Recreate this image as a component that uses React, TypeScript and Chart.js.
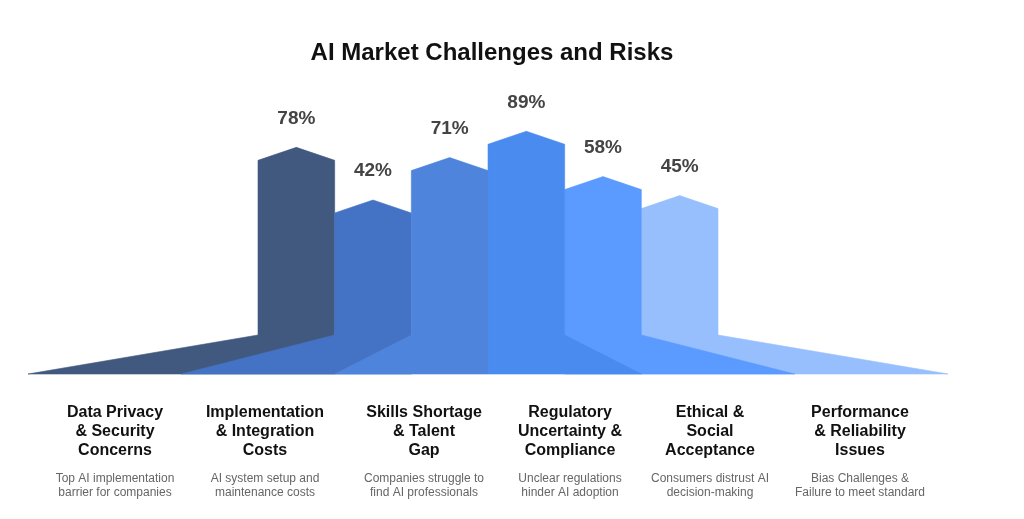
import React, { useEffect, useRef } from "react";
import { Chart, registerables } from "chart.js";

Chart.register(...registerables);

const categories = [
  ["Data Privacy", "& Security", "Concerns"],
  ["Implementation", "& Integration", "Costs"],
  ["Skills Shortage", "& Talent", "Gap"],
  ["Regulatory", "Uncertainty &", "Compliance"],
  ["Ethical &", "Social", "Acceptance"],
  ["Performance", "& Reliability", "Issues"],
];
const descriptions = [
  ["Top AI implementation", "barrier for companies"],
  ["AI system setup and", "maintenance costs"],
  ["Companies struggle to", "find AI professionals"],
  ["Unclear regulations", "hinder AI adoption"],
  ["Consumers distrust AI", "decision-making"],
  ["Bias Challenges &", "Failure to meet standard"],
];
const values = [78, 42, 71, 89, 58, 45];
const valueLabels = ["78%", "42%", "71%", "89%", "58%", "45%"];
const colors = ["#41597f", "#4472c4", "#4e84db", "#4a8bef", "#5b9bff", "#97bffe"];
const title = "AI Market Challenges and Risks";

// layout (canvas coordinates)
const W = 1008;
const H = 503;
const labelCenters = [107, 257, 416, 562, 702, 852];
const FONT = "'Liberation Sans', Arial, sans-serif";

const shapePlugin = {
  id: "shapes",
  afterDatasetsDraw(chart: any) {
    const ctx = chart.ctx;
    const meta = chart.getDatasetMeta(0);
    const base = chart.chartArea.bottom;
    const n = meta.data.length;
    const half = n / 2;
    const order: number[] = [];
    for (let i = 0; i < half; i++) order.push(i);
    for (let i = n - 1; i >= half; i--) order.push(i);
    ctx.save();
    for (const i of order) {
      const el = meta.data[i];
      const w = el.width;
      const left = el.x - w / 2;
      const right = el.x + w / 2;
      const peak = el.y;
      const shoulder = peak + 13;
      const tailTop = base - 39;
      ctx.beginPath();
      if (i < half) {
        const tailStart = left - (half - i) * w;
        ctx.moveTo(tailStart, base);
        ctx.lineTo(left, tailTop);
        ctx.lineTo(left, shoulder);
        ctx.lineTo(el.x, peak);
        ctx.lineTo(right, shoulder);
        ctx.lineTo(right, base);
      } else {
        const tailEnd = right + (i - half + 1) * w;
        ctx.moveTo(left, base);
        ctx.lineTo(left, shoulder);
        ctx.lineTo(el.x, peak);
        ctx.lineTo(right, shoulder);
        ctx.lineTo(right, tailTop);
        ctx.lineTo(tailEnd, base);
      }
      ctx.closePath();
      ctx.fillStyle = colors[i];
      ctx.fill();
      ctx.strokeStyle = colors[i];
      ctx.lineWidth = 0.6;
      ctx.stroke();
    }
    // value labels
    ctx.fillStyle = "#444444";
    ctx.font = `bold 19px ${FONT}`;
    ctx.textAlign = "center";
    ctx.textBaseline = "middle";
    meta.data.forEach((el: any, i: number) => {
      ctx.fillText(valueLabels[i], el.x, el.y - 29);
    });
    ctx.restore();
  },
  afterDraw(chart: any) {
    const ctx = chart.ctx;
    ctx.save();
    ctx.textAlign = "center";
    ctx.textBaseline = "middle";
    ctx.fillStyle = "#111111";
    ctx.font = `bold 24px ${FONT}`;
    ctx.fillText(title, 484, 45);
    categories.forEach((lines, i) => {
      ctx.fillStyle = "#111111";
      ctx.font = `bold 16px ${FONT}`;
      lines.forEach((t, j) => ctx.fillText(t, labelCenters[i], 404.7 + j * 19));
      ctx.fillStyle = "#666666";
      ctx.font = `12px ${FONT}`;
      descriptions[i].forEach((t, j) => ctx.fillText(t, labelCenters[i], 471 + j * 13.7));
    });
    ctx.restore();
  },
};

export default function App() {
  const ref = useRef<HTMLCanvasElement>(null);
  useEffect(() => {
    if (!ref.current) return;
    const chart = new Chart(ref.current, {
      type: "bar",
      data: {
        labels: categories.map((c) => c.join(" ")),
        datasets: [
          {
            data: values,
            backgroundColor: "rgba(0,0,0,0)",
            borderWidth: 0,
            barPercentage: 1,
            categoryPercentage: 1,
          },
        ],
      },
      options: {
        animation: false,
        responsive: false,
        layout: { padding: { left: 250, right: 298, top: 107.2, bottom: 137 } },
        plugins: { legend: { display: false }, tooltip: { enabled: false }, title: { display: false } },
        scales: {
          x: { display: false },
          y: { display: false, min: -77, max: 100 },
        },
      },
      plugins: [shapePlugin],
    });
    return () => chart.destroy();
  }, []);
  return (
    <div style={{ width: W, height: H }}>
      <canvas ref={ref} width={W} height={H} style={{ display: "block" }} />
    </div>
  );
}
